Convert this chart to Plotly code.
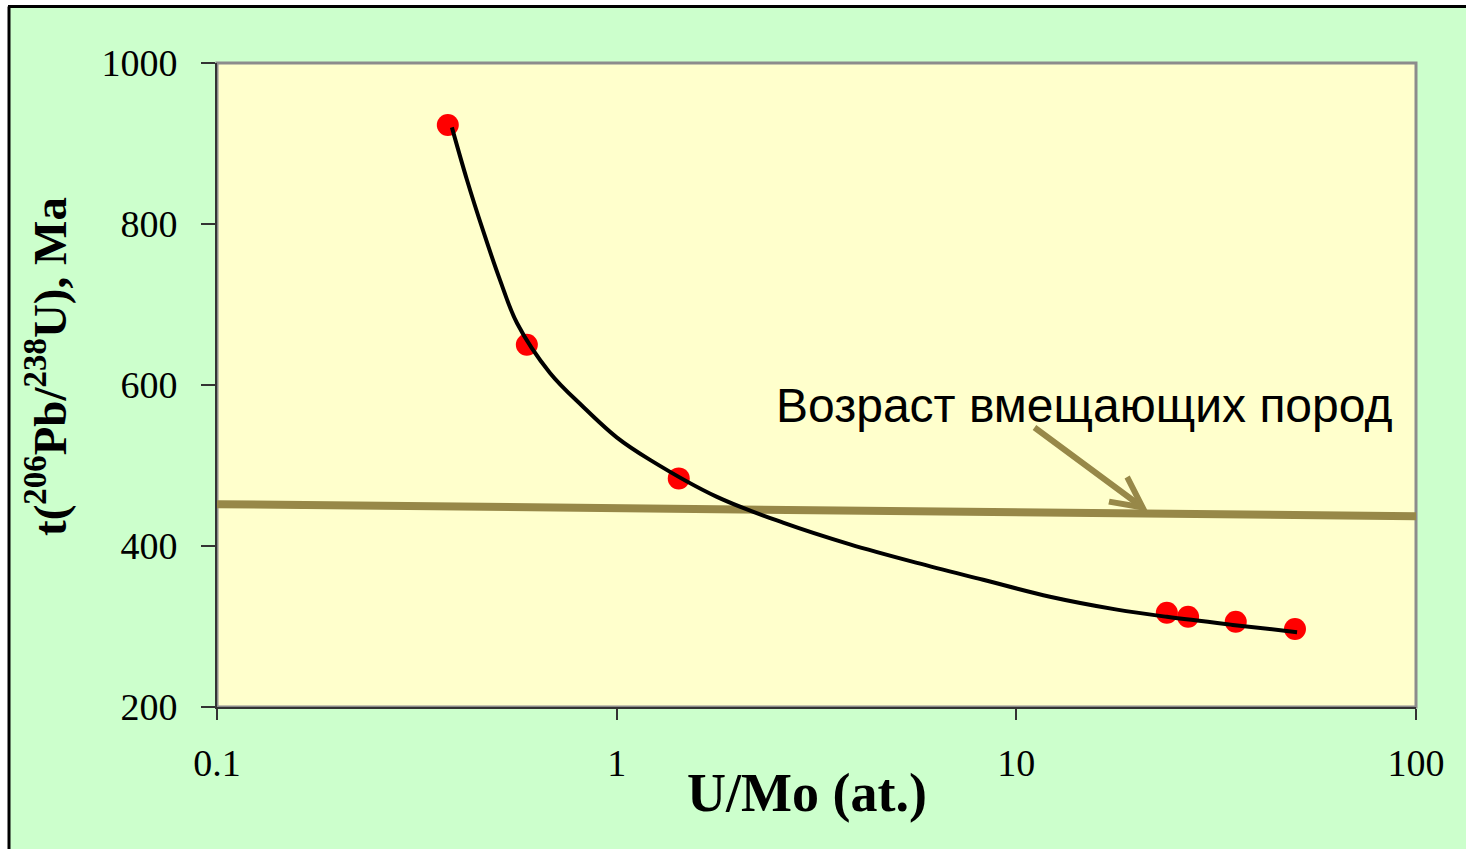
import math
import plotly.graph_objects as go

# Measured samples: U/Mo atomic ratio vs. 206Pb/238U age (Ma)
u_mo = [0.378, 0.596, 1.43, 23.8, 26.9, 35.4, 49.8]
age_ma = [923, 650, 484, 317, 312, 306, 297]

# Hand-traced trend curve through the samples
trend_x = [0.387, 0.422, 0.463, 0.511, 0.563, 0.681, 0.824, 1.00, 1.212, 1.782,
           2.608, 3.836, 5.643, 8.26, 12.14, 17.86, 23.8, 34.8, 50.4]
trend_y = [920, 855, 792, 730, 677, 615, 573, 535, 507, 461,
           429, 402, 379, 358, 337, 321, 312, 302, 293]

# Age of the host rocks (reference line across the plot)
host_x = [0.1, 100]
host_y = [452, 437]

x_ticks = [0.1, 1, 10, 100]
x_tick_text = ["0.1", "1", "10", "100"]
y_ticks = [200, 400, 600, 800, 1000]

host_label = "Возраст вмещающих пород"
arrow_tip_x, arrow_tip_y = 21.35, 443

GREEN = "#CCFFCC"
YELLOW = "#FFFFCC"
OLIVE = "#978848"
SERIF = "Liberation Serif, Times New Roman, serif"
SANS = "Liberation Sans, Arial, sans-serif"

fig = go.Figure()

fig.add_trace(go.Scatter(
    x=host_x, y=host_y, mode="lines",
    line=dict(color=OLIVE, width=8),
    hoverinfo="skip", showlegend=False,
))

fig.add_trace(go.Scatter(
    x=u_mo, y=age_ma, mode="markers",
    marker=dict(color="#FF0000", size=22, line=dict(width=0)),
    showlegend=False,
))

fig.add_trace(go.Scatter(
    x=trend_x, y=trend_y, mode="lines",
    line=dict(color="black", width=4, shape="spline", smoothing=1.0),
    hoverinfo="skip", showlegend=False,
))

L, R, T, B = 217, 50, 63, 142
W, H = 1466, 849
pw, ph = W - L - R, H - T - B


def px_to_paper(px, py):
    return (px - L) / pw, (H - B - py) / ph


# outer frame of the slide: white outside, black edge lines
x0, _ = px_to_paper(0, 0)
xb, _ = px_to_paper(8, 0)
_, y1 = px_to_paper(0, 0)
_, yb = px_to_paper(0, 6)
x_end, _ = px_to_paper(W, 0)
_, y_end = px_to_paper(0, H)
x_edge = px_to_paper(9, 0)[0]
y_edge = px_to_paper(0, 6.5)[1]
shapes = [
    dict(type="rect", xref="paper", yref="paper", x0=x0, x1=xb, y0=y_end, y1=y1,
         fillcolor="white", line=dict(width=0), layer="below"),
    dict(type="rect", xref="paper", yref="paper", x0=x0, x1=x_end, y0=yb, y1=y1,
         fillcolor="white", line=dict(width=0), layer="below"),
    dict(type="line", xref="paper", yref="paper", x0=x_edge, x1=x_edge,
         y0=y_end, y1=y_edge, line=dict(color="black", width=3)),
    dict(type="line", xref="paper", yref="paper", x0=px_to_paper(8, 0)[0], x1=x_end,
         y0=y_edge, y1=y_edge, line=dict(color="black", width=3)),
    # plot-area frame
    dict(type="rect", xref="paper", yref="paper", x0=0, x1=1, y0=0, y1=1,
         line=dict(color="#8C8C8C", width=3), layer="below"),
]

tx, ty = px_to_paper(1083.5, 406)
xt_x, xt_y = px_to_paper(807, 793)
yt_x, yt_y = px_to_paper(46, 367)

annotations = [
    dict(x=tx, y=ty, xref="paper", yref="paper", text=host_label, showarrow=False,
         font=dict(family=SANS, size=48, color="black"), xanchor="center", yanchor="middle"),
    dict(x=math.log10(arrow_tip_x), y=arrow_tip_y,
         xref="x", yref="y", text="", showarrow=True,
         ax=-115, ay=-85, axref="pixel", ayref="pixel",
         arrowhead=5, arrowsize=1.0, arrowwidth=6, arrowcolor=OLIVE, standoff=0),
    dict(x=xt_x, y=xt_y, xref="paper", yref="paper", text="<b>U/Mo (at.)</b>", showarrow=False,
         font=dict(family=SERIF, size=54, color="black"), xanchor="center", yanchor="middle"),
    dict(x=yt_x, y=yt_y, xref="paper", yref="paper",
         text="<b>t(<sup>206</sup>Pb/<sup>238</sup>U), Ma</b>", showarrow=False, textangle=-90,
         font=dict(family=SERIF, size=47, color="black"), xanchor="center", yanchor="middle"),
]

fig.update_layout(
    width=W, height=H,
    margin=dict(l=L, r=R, t=T, b=B, autoexpand=False),
    paper_bgcolor=GREEN,
    plot_bgcolor=YELLOW,
    shapes=shapes,
    annotations=annotations,
    showlegend=False,
    xaxis=dict(
        type="log", range=[-1, 2],
        tickvals=x_ticks, ticktext=x_tick_text,
        ticks="outside", ticklen=11, tickwidth=1.5, tickcolor="#333333",
        ticklabelstandoff=10,
        showgrid=False, zeroline=False,
        showline=True, linecolor="#333333", linewidth=2,
        tickfont=dict(family=SERIF, size=38, color="black"),
    ),
    yaxis=dict(
        range=[200, 1000],
        tickvals=y_ticks,
        ticks="outside", ticklen=14, tickwidth=1.5, tickcolor="#333333",
        ticklabelstandoff=16,
        showgrid=False, zeroline=False,
        showline=True, linecolor="#333333", linewidth=2,
        tickfont=dict(family=SERIF, size=38, color="black"),
    ),
)

fig.write_html("out.html")
